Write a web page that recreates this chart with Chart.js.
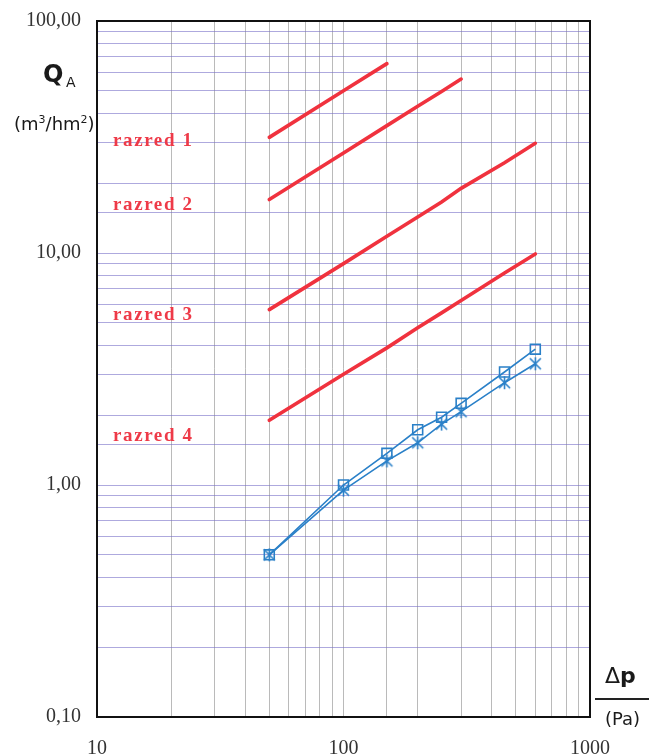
<!DOCTYPE html>
<html>
<head>
<meta charset="utf-8">
<script src="https://cdn.jsdelivr.net/npm/chart.js@4.4.1/dist/chart.umd.min.js"></script>
<style>
  html, body { margin: 0; padding: 0; background: #fff; }
  #wrap { position: relative; width: 657px; height: 755px; }
  canvas { position: absolute; left: 0; top: 0; }
  .txt { position: absolute; white-space: nowrap; line-height: 1; }
  .razred { font-family: "Liberation Serif", serif; font-weight: bold; font-size: 19px;
            letter-spacing: 1.6px; color: #ee3a48; left: 113px; }
  .sans { font-family: "DejaVu Sans", sans-serif; color: #1a1a1a; }
</style>
</head>
<body>
<div id="wrap">
  <canvas id="chart" width="657" height="755"></canvas>

  <div class="txt sans" style="left:43px; top:62px; font-size:24px; font-weight:bold;">Q</div>
  <div class="txt sans" style="left:66px; top:75px; font-size:14px;">A</div>
  <div class="txt sans" style="left:14px; top:114px; font-size:18px;">(m<sup style="font-size:11px;">3</sup>/hm<sup style="font-size:11px;">2</sup>)</div>

  <div class="txt razred" style="top:130px;">razred 1</div>
  <div class="txt razred" style="top:194px;">razred 2</div>
  <div class="txt razred" style="top:304px;">razred 3</div>
  <div class="txt razred" style="top:425px;">razred 4</div>

  <div class="txt sans" style="left:605px; top:665px; font-size:22px;">Δ<b>p</b></div>
  <div style="position:absolute; left:595px; top:698px; width:54px; height:2px; background:#222;"></div>
  <div class="txt sans" style="left:605px; top:710px; font-size:18px;">(Pa)</div>
</div>

<script>
'use strict';

/**
 * data
 */

const pressure = [50, 100, 150, 200, 250, 300, 450, 600];

const razred1 = [31.5, 50, 65.5];
const razred2 = [17.0, 27, 35.4, 42.9, 49.7, 56.2];
const razred3 = [5.7, 9.0, 11.8, 14.3, 16.6, 19.0, 24.5, 29.7];
const razred4 = [1.9, 3.0, 3.9, 4.76, 5.52, 6.24, 8.2, 9.9];

const measuredSquare = [0.50, 1.00, 1.37, 1.73, 1.96, 2.25, 3.07, 3.85];
const measuredCross = [0.50, 0.95, 1.27, 1.52, 1.83, 2.07, 2.76, 3.33];

const xTickLabels = [10, 100, 1000];
const yTickLabels = [0.1, 1, 10, 100];

const RED = "#f0323e";
const BLUE = "#2a80c8";

const toPoints = function (values) {
  return values.map(function (v, i) {
    return { x: pressure[i], y: v };
  });
}

// asterisk marker (X with a vertical stroke)
const starMarker = document.createElement("canvas");
starMarker.width = 15;
starMarker.height = 15;
const sctx = starMarker.getContext("2d");
sctx.strokeStyle = BLUE;
sctx.lineWidth = 1.6;
sctx.beginPath();
sctx.moveTo(2, 2); sctx.lineTo(13, 13);
sctx.moveTo(13, 2); sctx.lineTo(2, 13);
sctx.moveTo(7.5, 1); sctx.lineTo(7.5, 14);
sctx.stroke();

const redLine = function (values) {
  return {
    data: toPoints(values),
    showLine: true,
    borderColor: RED,
    borderWidth: 3.6,
    pointRadius: 0,
    borderCapStyle: "round"
  };
}

// frame on top / right side of the plot
const framePlugin = {
  id: "frame",
  afterDraw: function (chart) {
    const a = chart.chartArea;
    const ctx = chart.ctx;
    ctx.save();
    ctx.strokeStyle = "#111";
    ctx.lineWidth = 2;
    ctx.strokeRect(a.left, a.top, a.right - a.left, a.bottom - a.top);
    ctx.restore();
  }
};

const tickFont = { family: "Liberation Serif", size: 20 };

new Chart(document.getElementById("chart"), {
  type: "scatter",
  data: {
    datasets: [
      redLine(razred1),
      redLine(razred2),
      redLine(razred3),
      redLine(razred4),
      {
        data: toPoints(measuredSquare),
        showLine: true,
        borderColor: BLUE,
        borderWidth: 1.6,
        pointStyle: "rect",
        pointRadius: 7,
        pointBackgroundColor: "rgba(255,255,255,0)",
        pointBorderWidth: 1.6
      },
      {
        data: toPoints(measuredCross),
        showLine: true,
        borderColor: BLUE,
        borderWidth: 1.6,
        pointStyle: starMarker
      }
    ]
  },
  plugins: [framePlugin],
  options: {
    responsive: false,
    animation: false,
    layout: { padding: { top: 21, right: 67, left: 0, bottom: 0 } },
    plugins: {
      legend: { display: false },
      tooltip: { enabled: false }
    },
    scales: {
      x: {
        type: "logarithmic",
        min: 10,
        max: 1000,
        afterFit: function (scale) {
          scale.height = 38;
          scale.paddingLeft = 0;
          scale.paddingRight = 0;
        },
        border: { display: true, color: "#111", width: 2 },
        grid: { color: "rgba(140,140,140,0.6)", lineWidth: 1, drawTicks: false },
        ticks: {
          autoSkip: false,
          maxRotation: 0,
          padding: 20,
          color: "#333",
          font: tickFont,
          callback: function (value) {
            return xTickLabels.includes(value) ? String(value) : "";
          }
        }
      },
      y: {
        type: "logarithmic",
        min: 0.1,
        max: 100,
        afterFit: function (scale) {
          scale.width = 97;
          scale.paddingTop = 0;
          scale.paddingBottom = 0;
        },
        border: { display: true, color: "#111", width: 2 },
        grid: { color: "rgba(120,112,200,0.6)", lineWidth: 1, drawTicks: false },
        ticks: {
          autoSkip: false,
          padding: 16,
          color: "#333",
          font: tickFont,
          callback: function (value) {
            return yTickLabels.includes(value) ? value.toFixed(2).replace(".", ",") : "";
          }
        }
      }
    }
  }
});
</script>
</body>
</html>
